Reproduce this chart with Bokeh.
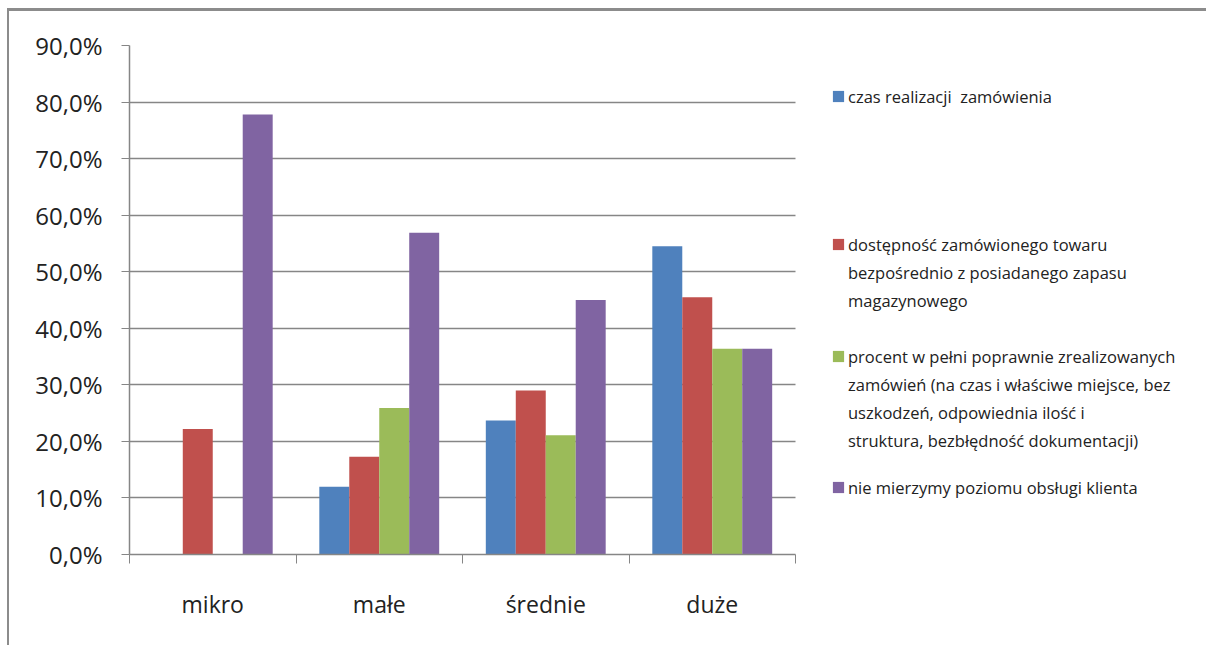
from bokeh.plotting import figure
from bokeh.models import Range1d, FixedTicker, Legend, LegendItem
from bokeh.embed import file_html
from bokeh.resources import INLINE

categories = ["mikro", "małe", "średnie", "duże"]
series_names = [
    ["czas realizacji  zamówienia"],
    ["dostępność zamówionego towaru",
     "bezpośrednio z posiadanego zapasu",
     "magazynowego"],
    ["procent w pełni poprawnie zrealizowanych",
     "zamówień (na czas i właściwe miejsce, bez",
     "uszkodzeń, odpowiednia ilość i",
     "struktura, bezbłędność dokumentacji)"],
    ["nie mierzymy poziomu obsługi klienta"],
]
czas = [0.0, 12.0, 23.7, 54.5]
dostepnosc = [22.2, 17.3, 29.0, 45.5]
procent = [0.0, 25.9, 21.1, 36.4]
nie_mierzymy = [77.8, 56.9, 45.0, 36.4]
y_ticks = [0, 10, 20, 30, 40, 50, 60, 70, 80, 90]
y_tick_labels = ["0,0%", "10,0%", "20,0%", "30,0%", "40,0%", "50,0%",
                 "60,0%", "70,0%", "80,0%", "90,0%"]

colors = ["#4F81BD", "#C0504D", "#9BBB59", "#8064A2"]
series = [czas, dostepnosc, procent, nie_mierzymy]

FONT = "Open Sans"
GRAY = "#868686"

FIG_W, FIG_H = 1199, 637
BORDER_L, BORDER_T, BORDER_B = 120, 34, 94
frame_w = FIG_W - BORDER_L
bars_px = 666  # pixel width taken by the categories
n = len(categories)
x_end = n * frame_w / bars_px

p = figure(width=FIG_W, height=FIG_H, output_backend="svg", toolbar_location=None,
           x_range=Range1d(0, x_end), y_range=Range1d(0, 90),
           min_border_left=BORDER_L, min_border_right=0, min_border_top=BORDER_T,
           min_border_bottom=BORDER_B)
p.margin = (8, 0, 0, 7)
p.styles = {"border-top": "3px solid #8c8c8c", "border-left": "2px solid #8c8c8c"}
p.outline_line_color = None
p.background_fill_color = "white"
p.border_fill_color = "white"

bar_w = 0.18
centers = [i + 0.5 for i in range(n)]
renderers = []
for k, (vals, col) in enumerate(zip(series, colors)):
    off = (k - 1.5) * bar_w
    xs = [c + off for c in centers]
    r = p.vbar(x=xs, top=vals, bottom=0, width=bar_w, fill_color=col,
               line_color=None)
    renderers.append(r)

# transparent, data-less renderer used for continuation lines of legend labels
blank = p.vbar(x=[], top=[], width=bar_w, fill_alpha=0, line_alpha=0)

# x axis
p.xaxis.ticker = FixedTicker(ticks=centers, minor_ticks=list(range(n + 1)))
p.xaxis.bounds = (0, n)
p.xaxis.major_label_overrides = {c: name for c, name in zip(centers, categories)}
p.xaxis.major_tick_line_color = None
p.xaxis.minor_tick_line_color = GRAY
p.xaxis.minor_tick_out = 9
p.xaxis.minor_tick_in = 0
p.xaxis.axis_line_color = GRAY
p.xaxis.axis_line_width = 1.5
p.xaxis.major_label_text_font = FONT
p.xaxis.major_label_text_font_size = "23px"
p.xaxis.major_label_text_color = "#222222"
p.xaxis.major_label_standoff = 24
p.xgrid.grid_line_color = None

# y axis
p.yaxis.ticker = FixedTicker(ticks=y_ticks, minor_ticks=[])
p.yaxis.major_label_overrides = {t: l for t, l in zip(y_ticks, y_tick_labels)}
p.yaxis.major_tick_line_color = GRAY
p.yaxis.major_tick_out = 8
p.yaxis.major_tick_in = 0
p.yaxis.axis_line_color = GRAY
p.yaxis.axis_line_width = 1.5
p.yaxis.major_label_text_font = FONT
p.yaxis.major_label_text_font_size = "24px"
p.yaxis.major_label_text_color = "#222222"
p.yaxis.major_label_standoff = 19
p.ygrid.grid_line_color = GRAY
p.ygrid.grid_line_width = 1.5
p.ygrid.cross_bounds = (0, n)

# legends, one per series, placed at the right of the plot area
LINE_H = 28
legend_pos = [(702, 444), (702, 240), (702, 100), (702, 53)]
for lines, r, pos in zip(series_names, renderers, legend_pos):
    items = [LegendItem(label=lines[0], renderers=[r])]
    items += [LegendItem(label=t, renderers=[blank]) for t in lines[1:]]
    lg = Legend(items=items, location=pos, spacing=0,
                padding=0, margin=0, border_line_color=None,
                background_fill_alpha=0, glyph_width=14, glyph_height=14,
                label_standoff=3, label_text_font=FONT,
                label_text_font_size="16.5px",
                label_text_color="#222222", label_height=LINE_H)
    p.add_layout(lg)

open("out.html", "w").write(file_html(p, INLINE))
